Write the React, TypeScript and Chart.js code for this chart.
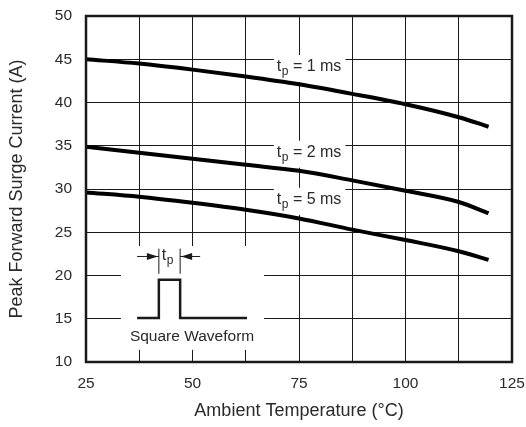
import { useRef, useEffect } from 'react';
import Chart from 'chart.js/auto';
import type { Plugin } from 'chart.js';

// values (ambient temp in °C vs peak surge current in A)
const TEMPS = [25, 37.5, 50, 62.5, 75, 87.5, 100, 112.5, 119.5];
const TP_1MS = [45, 44.5, 43.8, 43.0, 42.1, 41.0, 39.8, 38.3, 37.2];
const TP_2MS = [34.9, 34.2, 33.5, 32.8, 32.1, 31.0, 29.8, 28.5, 27.2];
const TP_5MS = [29.6, 29.1, 28.4, 27.6, 26.6, 25.3, 24.1, 22.8, 21.8];
const X_TICKS = [25, 50, 75, 100, 125];
const CURVE_LABELS = ['1 ms', '2 ms', '5 ms'];
// where each curve label sits, in data units
const LABEL_X = 69.8;
const LABEL_Y = [44.1, 34.2, 28.75];

const FONT = '"Liberation Sans", Arial, Helvetica, sans-serif';
const INK = '#1a1a1a';
const TEXT = '#2a2a2a';

// draws "t" with subscript "p" then the rest, returns width
function drawTp(ctx: CanvasRenderingContext2D, x: number, y: number, rest: string) {
  ctx.font = `16px ${FONT}`;
  ctx.fillText('t', x, y);
  let w = ctx.measureText('t').width + 0.5;
  ctx.font = `12px ${FONT}`;
  ctx.fillText('p', x + w, y + 5);
  w += ctx.measureText('p').width;
  ctx.font = `16px ${FONT}`;
  ctx.fillText(rest, x + w, y);
  return w + ctx.measureText(rest).width;
}

function measureTp(ctx: CanvasRenderingContext2D, rest: string) {
  ctx.font = `16px ${FONT}`;
  let w = ctx.measureText('t').width + 0.5 + ctx.measureText(rest).width;
  ctx.font = `12px ${FONT}`;
  w += ctx.measureText('p').width;
  return w;
}

const insetPlugin: Plugin<'line'> = {
  id: 'inset',
  beforeDatasetsDraw(chart) {
    const { ctx, scales } = chart;
    const xs = scales.x, ys = scales.y;
    const px = (v: number) => xs.getPixelForValue(v);
    const py = (v: number) => ys.getPixelForValue(v);
    ctx.save();
    // white area of the square-waveform inset, covering the grid
    ctx.fillStyle = '#fff';
    ctx.fillRect(px(33.2), py(23.4), px(66.8) - px(33.2), py(11.4) - py(23.4));
    // label boxes for the curves
    LABEL_Y.forEach((ly, i) => {
      const w = measureTp(ctx, ' = ' + CURVE_LABELS[i]);
      ctx.fillRect(px(LABEL_X) - 3, py(ly) - 12, w + 7, 27);
    });

    // square waveform
    ctx.strokeStyle = INK;
    ctx.lineWidth = 2.5;
    ctx.lineJoin = 'miter';
    ctx.beginPath();
    ctx.moveTo(px(37), py(15.1));
    ctx.lineTo(px(42.1), py(15.1));
    ctx.lineTo(px(42.1), py(19.5));
    ctx.lineTo(px(47.1), py(19.5));
    ctx.lineTo(px(47.1), py(15.1));
    ctx.lineTo(px(62.8), py(15.1));
    ctx.stroke();

    // tp marker: edge ticks and arrows
    ctx.lineWidth = 1;
    ctx.beginPath();
    ctx.moveTo(px(42.1), py(23.1));
    ctx.lineTo(px(42.1), py(20.2));
    ctx.moveTo(px(47.1), py(23.1));
    ctx.lineTo(px(47.1), py(20.2));
    ctx.moveTo(px(37), py(22.2));
    ctx.lineTo(px(42.1), py(22.2));
    ctx.moveTo(px(51.8), py(22.2));
    ctx.lineTo(px(47.1), py(22.2));
    ctx.stroke();
    const ay = py(22.2);
    ctx.fillStyle = INK;
    ctx.beginPath();
    ctx.moveTo(px(42.1) - 1, ay);
    ctx.lineTo(px(42.1) - 12, ay - 3.5);
    ctx.lineTo(px(42.1) - 12, ay + 3.5);
    ctx.closePath();
    ctx.fill();
    ctx.beginPath();
    ctx.moveTo(px(47.1) + 1, ay);
    ctx.lineTo(px(47.1) + 12, ay - 3.5);
    ctx.lineTo(px(47.1) + 12, ay + 3.5);
    ctx.closePath();
    ctx.fill();

    ctx.fillStyle = TEXT;
    ctx.textBaseline = 'middle';
    drawTp(ctx, px(42.1) + 3, py(22.3), '');
    ctx.font = `15.5px ${FONT}`;
    ctx.textAlign = 'center';
    ctx.fillText('Square Waveform', px(49.9), py(12.9));
    ctx.restore();
  },
  afterDatasetsDraw(chart) {
    const { ctx, scales, chartArea } = chart;
    ctx.save();
    ctx.fillStyle = TEXT;
    ctx.textBaseline = 'middle';
    LABEL_Y.forEach((ly, i) => {
      drawTp(ctx, scales.x.getPixelForValue(LABEL_X), scales.y.getPixelForValue(ly), ' = ' + CURVE_LABELS[i]);
    });
    // heavy frame round the plot
    ctx.strokeStyle = INK;
    ctx.lineWidth = 2.5;
    ctx.strokeRect(chartArea.left, chartArea.top, chartArea.right - chartArea.left, chartArea.bottom - chartArea.top);
    ctx.restore();
  },
};

// keep tick-label overflow from pushing the plot area around
const noOverflow = (s: any) => {
  s.paddingTop = 0;
  s.paddingBottom = 0;
  s.paddingLeft = 0;
  s.paddingRight = 0;
};

export default function App() {
  const canvasRef = useRef<HTMLCanvasElement>(null);
  const chartRef = useRef<Chart | null>(null);

  useEffect(() => {
    if (!canvasRef.current) return;
    const curve = (vals: number[], label: string) => ({
      label,
      data: TEMPS.map((t, i) => ({ x: t, y: vals[i] })),
      borderColor: '#000',
      borderWidth: 4,
      pointRadius: 0,
      cubicInterpolationMode: 'monotone' as const,
      fill: false,
    });
    chartRef.current?.destroy();
    chartRef.current = new Chart(canvasRef.current, {
      type: 'line',
      data: {
        datasets: [
          curve(TP_1MS, 'tp = 1 ms'),
          curve(TP_2MS, 'tp = 2 ms'),
          curve(TP_5MS, 'tp = 5 ms'),
        ],
      },
      options: {
        responsive: false,
        animation: false,
        layout: { padding: { top: 16, right: 14, left: 0, bottom: 0 } },
        plugins: { legend: { display: false }, tooltip: { enabled: false } },
        scales: {
          x: {
            type: 'linear',
            min: 25,
            max: 125,
            ticks: {
              stepSize: 12.5,
              padding: 12,
              color: TEXT,
              font: { family: FONT, size: 15.5 },
              maxRotation: 0,
              autoSkip: false,
              callback: (v) => (X_TICKS.includes(Number(v)) ? String(v) : ''),
            },
            grid: { color: INK, lineWidth: 1, drawTicks: false },
            border: { display: false },
            title: {
              display: true,
              text: 'Ambient Temperature (°C)',
              color: TEXT,
              font: { family: FONT, size: 18 },
              padding: { top: 0, bottom: 5 },
            },
            afterFit: (s) => { s.height = 65; noOverflow(s); },
          },
          y: {
            min: 10,
            max: 50,
            ticks: {
              stepSize: 5,
              padding: 14,
              color: TEXT,
              font: { family: FONT, size: 15.5 },
            },
            grid: { color: INK, lineWidth: 1, drawTicks: false },
            border: { display: false },
            title: {
              display: true,
              text: 'Peak Forward Surge Current (A)',
              color: TEXT,
              font: { family: FONT, size: 18 },
              padding: { top: 6, bottom: 0 },
            },
            afterFit: (s) => { s.width = 86; noOverflow(s); },
          },
        },
      },
      plugins: [insetPlugin],
    });
    return () => {
      chartRef.current?.destroy();
      chartRef.current = null;
    };
  }, []);

  return (
    <div style={{ position: 'absolute', left: 0, top: 0, width: 526, height: 427, background: '#fff' }}>
      <canvas ref={canvasRef} width={526} height={427} />
    </div>
  );
}
